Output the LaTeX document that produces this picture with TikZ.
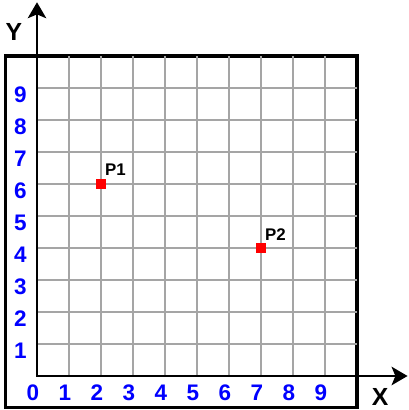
\documentclass[tikz,border=0pt]{standalone}
\usepackage{fontspec}
\setmainfont{Liberation Sans}
\usetikzlibrary{arrows.meta}

\definecolor{gridgray}{RGB}{165,165,165}
\definecolor{numblue}{RGB}{0,0,255}
\definecolor{pointred}{RGB}{255,0,0}

\begin{document}
\begin{tikzpicture}[x=1cm,y=1cm,line cap=rect,line join=miter,
    axislabel/.style={font=\fontsize{22}{22}\selectfont\bfseries,text=black},
    tick/.style={font=\fontsize{20}{20}\selectfont\bfseries,text=numblue,inner sep=0pt},
    ptlabel/.style={font=\fontsize{15}{15}\selectfont\bfseries,text=black,inner sep=0pt},
    ptmark/.style={fill=pointred,draw=none,minimum size=0.3cm,inner sep=0pt},
    axisarrow/.style={line width=1.8pt,-{Stealth[length=5mm,width=5.8mm,inset=1.2mm]}}]
        \useasboundingbox (-1.156,-1.0625) rectangle (11.625,11.75);

        % Marco exterior
        \draw[line width=2.7pt] (-0.97,-0.97) rectangle (10,10);

        % Cuadrícula
        \foreach \k in {1,...,9} {
            \draw[gridgray,line width=1.8pt,line cap=butt] (\k,0) -- (\k,10);
            \draw[gridgray,line width=1.8pt,line cap=butt] (0,\k) -- (10,\k);
        }

        % Ejes con flechas
        \coordinate (O) at (0,0);
        \coordinate (Xend) at (11.58,0);
        \coordinate (Yend) at (0,11.68);
        \draw[axisarrow] (O) -- (Xend);
        \draw[axisarrow] (O) -- (Yend);
        \node[axislabel] (xlab) at (10.72,-0.66) {X};
        \node[axislabel] (ylab) at (-0.72,10.75) {Y};

        % Números en los ejes
        \foreach \k in {0,...,9} {
            \node[tick] (xt\k) at (\k-0.13,-0.53) {\k};
        }
        \foreach \k in {1,...,9} {
            \node[tick] (yt\k) at (-0.52,\k-0.2) {\k};
        }

        % Puntos P1 y P2
        \node[ptmark] (P1) at (2,6) {};
        \node[ptmark] (P2) at (7,4) {};
        \node[ptlabel] (P1lab) at (2.45,6.44) {P1};
        \node[ptlabel] (P2lab) at (7.45,4.41) {P2};
    \end{tikzpicture}
\end{document}
